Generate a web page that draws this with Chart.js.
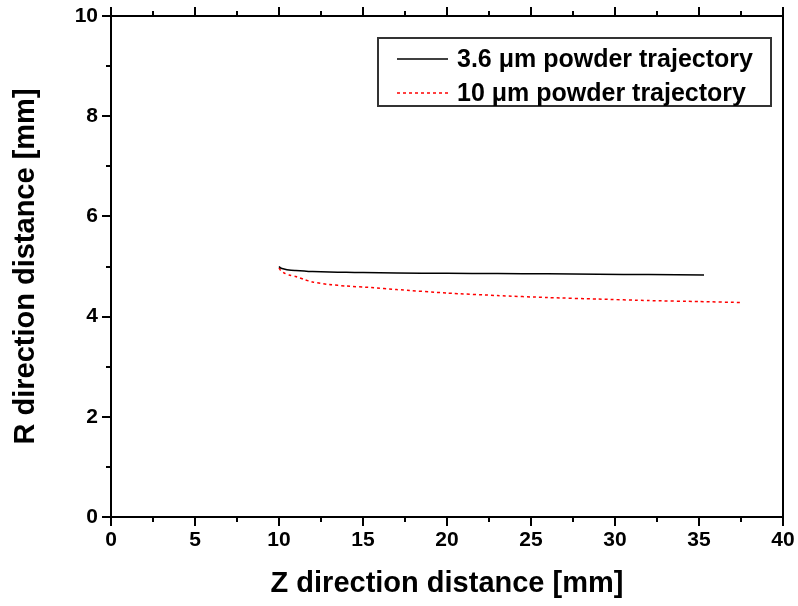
<!DOCTYPE html>
<html>
<head>
<meta charset="utf-8">
<title>Powder trajectory</title>
<script src="https://cdn.jsdelivr.net/npm/chart.js@4.4.1/dist/chart.umd.min.js"></script>
<style>
  html, body { margin: 0; padding: 0; background: #fff; }
  #wrap { width: 798px; height: 606px; }
</style>
</head>
<body>
<div id="wrap"><canvas id="trajChart" width="798" height="606"></canvas></div>
<script>
// trajectory of the 3.6 um particle (Z, R in mm)
const zSmall = [10, 10.1, 10.3, 10.6, 11, 11.5, 12, 13, 14, 15, 17, 20, 23, 26, 29, 32, 35.3];
const rSmall = [5.0, 4.97, 4.95, 4.93, 4.92, 4.91, 4.90, 4.89, 4.885, 4.88, 4.87, 4.865, 4.86, 4.855, 4.845, 4.84, 4.83];

// trajectory of the 10 um particle
const zLarge = [10, 10.1, 10.3, 10.6, 11, 11.5, 12, 13, 14, 15.5, 17, 20, 23, 26, 29, 32, 35, 37.6];
const rLarge = [4.97, 4.92, 4.87, 4.83, 4.80, 4.74, 4.69, 4.64, 4.61, 4.58, 4.54, 4.47, 4.42, 4.38, 4.35, 4.32, 4.30, 4.28];

const zTicks = [0, 5, 10, 15, 20, 25, 30, 35, 40];
const rTicks = [0, 2, 4, 6, 8, 10];

const seriesNames = ['3.6 \u03bcm powder trajectory', '10 \u03bcm powder trajectory'];

const FONT = "'Liberation Sans', Arial, Helvetica, sans-serif";

function toPoints(xs, ys) {
    return xs.map((x, i) => ({ x: x, y: ys[i] }));
}

function minorsOf(ticks) {
    const out = [];
    for (let i = 0; i < ticks.length - 1; i++) out.push((ticks[i] + ticks[i + 1]) / 2);
    return out;
}

// box, ticks on left/bottom/top
const framePlugin = {
    id: 'frame',
    afterDatasetsDraw(chart) {
        const ctx = chart.ctx;
        const a = chart.chartArea;
        const xs = chart.scales.x, ys = chart.scales.y;
        const major = 9, minor = 5;
        ctx.save();
        ctx.strokeStyle = '#000';
        ctx.lineWidth = 2;
        ctx.lineCap = 'butt';
        ctx.strokeRect(a.left, a.top, a.right - a.left, a.bottom - a.top);
        ctx.beginPath();
        zTicks.forEach(v => {
            const px = Math.round(xs.getPixelForValue(v));
            ctx.moveTo(px, a.bottom); ctx.lineTo(px, a.bottom + major);
            ctx.moveTo(px, a.top); ctx.lineTo(px, a.top - major);
        });
        minorsOf(zTicks).forEach(v => {
            const px = Math.round(xs.getPixelForValue(v));
            ctx.moveTo(px, a.bottom); ctx.lineTo(px, a.bottom + minor);
            ctx.moveTo(px, a.top); ctx.lineTo(px, a.top - minor);
        });
        rTicks.forEach(v => {
            const py = Math.round(ys.getPixelForValue(v));
            ctx.moveTo(a.left, py); ctx.lineTo(a.left - major, py);
        });
        minorsOf(rTicks).forEach(v => {
            const py = Math.round(ys.getPixelForValue(v));
            ctx.moveTo(a.left, py); ctx.lineTo(a.left - minor, py);
        });
        ctx.stroke();
        ctx.restore();
    }
};

// boxed legend in the upper right corner
const boxLegend = {
    id: 'boxLegend',
    afterDraw(chart) {
        const ctx = chart.ctx;
        const bx = 378, by = 38, bw = 393, bh = 68;
        ctx.save();
        ctx.strokeStyle = '#333';
        ctx.lineWidth = 2;
        ctx.strokeRect(bx, by, bw, bh);
        ctx.font = 'bold 25px ' + FONT;
        ctx.textBaseline = 'middle';
        ctx.fillStyle = '#000';
        chart.data.datasets.forEach((ds, i) => {
            const y = by + 21 + i * 34;
            ctx.beginPath();
            ctx.strokeStyle = ds.borderColor;
            ctx.lineWidth = 1.5;
            ctx.setLineDash(ds.borderDash || []);
            ctx.moveTo(397, y);
            ctx.lineTo(448, y);
            ctx.stroke();
            ctx.setLineDash([]);
            ctx.fillText(ds.label, 457, y + 1);
        });
        ctx.restore();
    }
};

const ctx = document.getElementById('trajChart').getContext('2d');
const trajChart = new Chart(ctx, {
    type: 'scatter',
    data: {
        datasets: [
            {
                label: seriesNames[0],
                data: toPoints(zSmall, rSmall),
                showLine: true,
                borderColor: '#000000',
                borderWidth: 1.5,
                pointRadius: 0,
                tension: 0.2
            },
            {
                label: seriesNames[1],
                data: toPoints(zLarge, rLarge),
                showLine: true,
                borderColor: '#ff0000',
                borderWidth: 1.5,
                borderDash: [3, 3],
                pointRadius: 0,
                tension: 0.2
            }
        ]
    },
    options: {
        responsive: false,
        animation: false,
        devicePixelRatio: 1,
        layout: { padding: { top: 16, right: 15, left: 0, bottom: 0 } },
        plugins: {
            legend: { display: false },
            tooltip: { enabled: false }
        },
        scales: {
            x: {
                type: 'linear',
                min: 0,
                max: 40,
                afterBuildTicks: s => { s.ticks = zTicks.map(v => ({ value: v })); },
                afterFit: s => { s.height = 89; s.paddingLeft = 0; s.paddingRight = 0; },
                grid: { display: false, drawTicks: false },
                border: { display: false },
                ticks: {
                    color: '#000',
                    padding: 11,
                    maxRotation: 0,
                    font: { family: FONT, size: 21, weight: 'bold' }
                },
                title: {
                    display: true,
                    text: 'Z direction distance [mm]',
                    color: '#000',
                    font: { family: FONT, size: 29, weight: 'bold' },
                    padding: { top: 0, bottom: 5 }
                }
            },
            y: {
                type: 'linear',
                min: 0,
                max: 10,
                afterBuildTicks: s => { s.ticks = rTicks.map(v => ({ value: v })); },
                afterFit: s => { s.width = 111; s.paddingTop = 0; s.paddingBottom = 0; },
                grid: { display: false, drawTicks: false },
                border: { display: false },
                ticks: {
                    color: '#000',
                    padding: 13,
                    font: { family: FONT, size: 21, weight: 'bold' }
                },
                title: {
                    display: true,
                    text: 'R direction distance [mm]',
                    color: '#000',
                    font: { family: FONT, size: 29, weight: 'bold' },
                    padding: { top: 9, bottom: 0 }
                }
            }
        }
    },
    plugins: [framePlugin, boxLegend]
});
</script>
</body>
</html>
